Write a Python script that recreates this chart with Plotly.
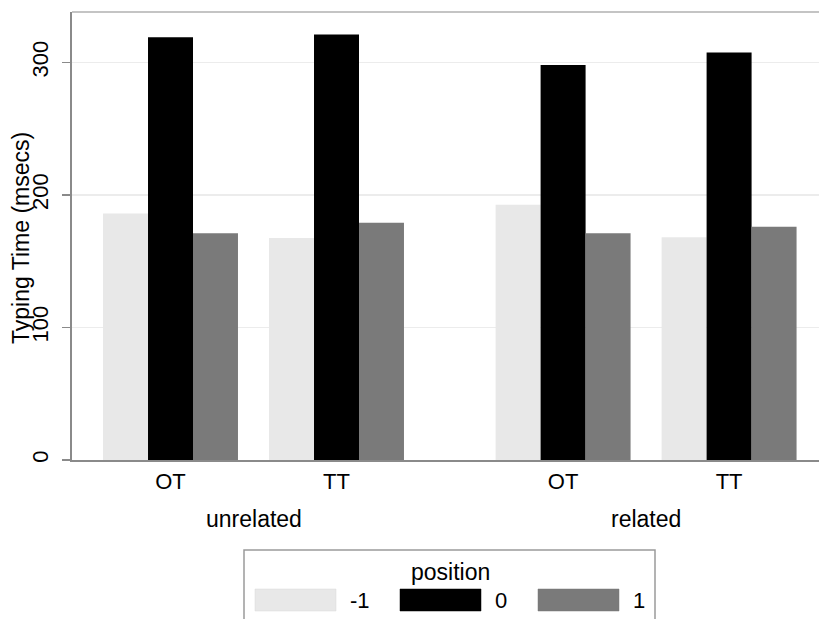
import plotly.graph_objects as go

# ---- data ----
relations = ["unrelated", "related"]
conditions = ["OT", "TT"]
series_names = ["-1", "0", "1"]
pos_minus1 = [186, 167.5, 192.5, 168]
pos_0 = [319, 321, 298, 307.5]
pos_1 = [171, 179, 171, 176]
y_ticks = [0, 100, 200, 300]
y_title = "Typing Time (msecs)"
legend_title = "position"

# ---- style ----
colors = ["#e8e8e8", "#000000", "#7a7a7a"]
FONT = "Liberation Sans, Arial, Helvetica, sans-serif"
FS_TICK = 22
FS_LAB = 23
GROUP_GAP = 1.365  # spacing between relation groups (in cluster units)

# cluster positions along x
xpos = []
labels = []
for gi, rel in enumerate(relations):
    for ci, cond in enumerate(conditions):
        xpos.append(ci + gi * GROUP_GAP + gi * (len(conditions) - 1))
        labels.append(cond)
group_centers = []
for gi in range(len(relations)):
    pts = xpos[gi * len(conditions):(gi + 1) * len(conditions)]
    group_centers.append(sum(pts) / len(pts))

fig = go.Figure()
for name, vals, col in zip(series_names, [pos_minus1, pos_0, pos_1], colors):
    fig.add_trace(go.Bar(x=xpos, y=vals, name=name, marker=dict(color=col, line=dict(width=0)),
                         showlegend=False, hoverinfo="skip"))

W, H = 819, 619
L, T, R = 72, 12, 0
B = H - T - 448
pw = W - L - R
ph = H - T - B

def px_x(p):  # screenshot pixel -> paper x
    return (p - L) / pw

def px_y(p):  # screenshot pixel -> paper y
    return (H - B - p) / ph

annotations = []
for gc, rel in zip(group_centers, relations):
    annotations.append(dict(x=gc, y=px_y(519), xref="x", yref="paper", text=rel,
                            showarrow=False, font=dict(size=FS_LAB, color="#000"),
                            xanchor="center", yanchor="middle"))
# y-axis title
annotations.append(dict(x=px_x(21), y=px_y(238), xref="paper", yref="paper", text=y_title,
                        textangle=-90, showarrow=False, font=dict(size=FS_LAB, color="#000"),
                        xanchor="center", yanchor="middle"))

shapes = []
# top border
shapes.append(dict(type="line", xref="paper", yref="paper", x0=0, x1=1, y0=1, y1=1,
                   line=dict(color="#c4c4c4", width=2)))
# legend box (open at the bottom, where the picture is cut off)
bx0, bx1, by_top, by_bot = px_x(244), px_x(655), px_y(550), px_y(619)
shapes.append(dict(type="path", xref="paper", yref="paper",
                   path=f"M {bx0},{by_bot} L {bx0},{by_top} L {bx1},{by_top} L {bx1},{by_bot}",
                   line=dict(color="#9a9a9a", width=1.5)))
annotations.append(dict(x=px_x(450), y=px_y(572), xref="paper", yref="paper", text=legend_title,
                        showarrow=False, font=dict(size=FS_LAB, color="#000"),
                        xanchor="center", yanchor="middle"))
legend_swatch_left = [255, 400, 538]
SW = 81
for left, name, col in zip(legend_swatch_left, series_names, colors):
    shapes.append(dict(type="rect", xref="paper", yref="paper",
                       x0=px_x(left), x1=px_x(left + SW), y0=px_y(611), y1=px_y(589),
                       line=dict(color="#d8d8d8" if col == "#e8e8e8" else col, width=0.5),
                       fillcolor=col, layer="above"))
    annotations.append(dict(x=px_x(left + SW + 12), y=px_y(600), xref="paper", yref="paper",
                            text=name, showarrow=False, font=dict(size=FS_TICK, color="#000"),
                            xanchor="left", yanchor="middle"))

fig.update_layout(
    width=W, height=H,
    margin=dict(l=L, r=R, t=T, b=B, pad=0),
    paper_bgcolor="white", plot_bgcolor="white",
    barmode="group", bargap=0.187, bargroupgap=0,
    font=dict(family=FONT, size=FS_TICK, color="#000"),
    shapes=shapes, annotations=annotations,
    xaxis=dict(range=[-0.5934, -0.5934 + pw / 166.0], tickmode="array", tickvals=xpos,
               ticktext=labels, showgrid=False, zeroline=False, showline=True,
               linecolor="#8a8a8a", linewidth=2, ticks="", ticklabelstandoff=1,
               tickfont=dict(size=FS_TICK)),
    yaxis=dict(range=[0, 338], tickmode="array", tickvals=y_ticks, tickangle=-90,
               showgrid=True, gridcolor="#ececec", gridwidth=1.5, zeroline=False,
               showline=True, linecolor="#8a8a8a", linewidth=2, ticks="outside",
               ticklen=8, tickcolor="#8a8a8a", tickwidth=1.5, ticklabelstandoff=5,
               tickfont=dict(size=FS_TICK)),
)

fig.write_html(
    "out.html",
    config={"displayModeBar": False, "staticPlot": True},
    post_script=(
        "document.documentElement.style.overflow='hidden';"
        "document.body.style.margin='0';document.body.style.overflow='hidden';"
    ),
)
